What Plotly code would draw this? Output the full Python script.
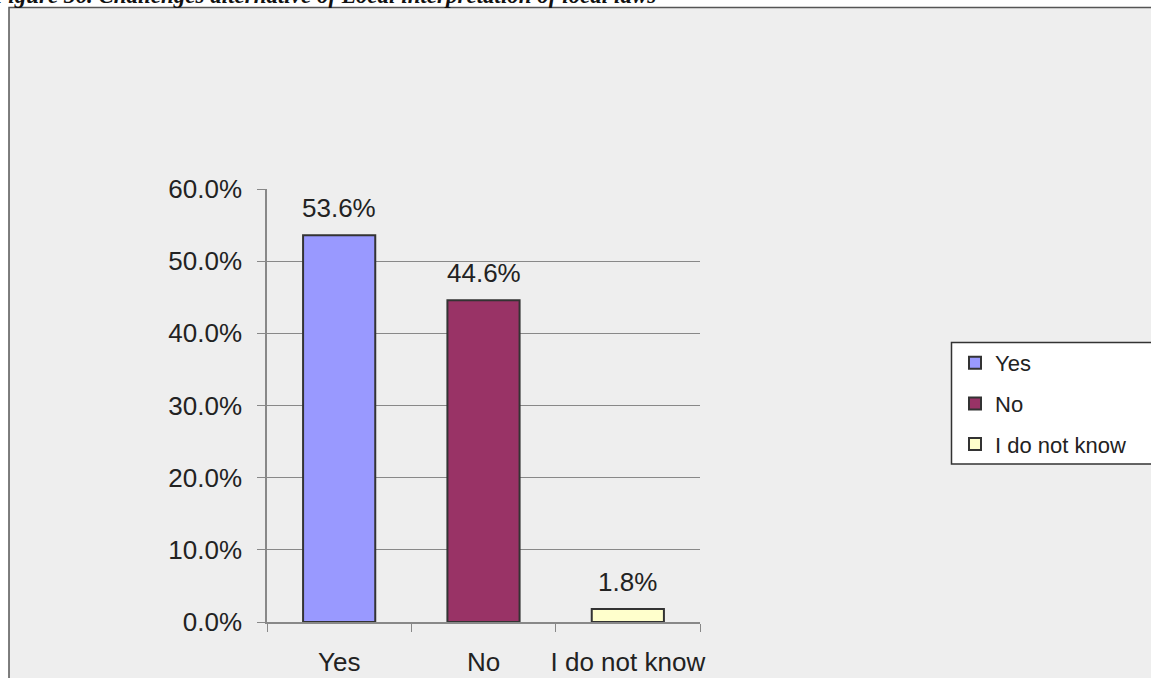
import plotly.graph_objects as go

# Survey answers and their shares (%)
categories = ["Yes", "No", "I do not know"]
shares = [53.6, 44.6, 1.8]
bar_colors = ["#9999ff", "#993366", "#ffffcc"]
y_ticks = [0, 10, 20, 30, 40, 50, 60]
y_tick_labels = [f"{v:.1f}%" for v in y_ticks]

W, H = 1151, 678


def px_x(x):
    return x / W


def px_y(y):
    return 1 - y / H


FONT = "Liberation Sans, Arial, sans-serif"
TEXT = "#222222"
AXIS = "#888888"

fig = go.Figure()

for cat, val, col in zip(categories, shares, bar_colors):
    fig.add_trace(go.Bar(
        x=[cat], y=[val], name=cat, legendgroup=cat,
        width=0.5,
        marker=dict(color=col, line=dict(color="#333333", width=2)),
        hoverinfo="skip",
    ))
    fig.add_annotation(
        x=cat, y=val, xref="x", yref="y",
        text=f"{val:.1f}%", showarrow=False,
        yanchor="bottom", yshift=10,
        font=dict(family=FONT, size=26, color=TEXT),
    )

# Chart frame (grey panel) and legend box
fig.add_shape(type="rect", xref="paper", yref="paper",
              x0=px_x(9), x1=px_x(1170), y0=px_y(700), y1=px_y(7.5),
              fillcolor="#eeeeee", line=dict(color="#555555", width=1.5),
              layer="below")
fig.add_shape(type="rect", xref="paper", yref="paper",
              x0=px_x(951.5), x1=px_x(1170), y0=px_y(464), y1=px_y(342.5),
              fillcolor="#ffffff", line=dict(color="#333333", width=1.5),
              layer="below")

# Caption above the chart (runs off the top edge of the page)
fig.add_annotation(
    x=px_x(-10), y=px_y(-4), xref="paper", yref="paper",
    xanchor="left", yanchor="middle", showarrow=False,
    text="<b><i>Figure 36. Challenges alternative of Local interpretation of local laws</i></b>",
    font=dict(family="Liberation Serif, Times New Roman, serif", size=23, color="#111111"),
)

fig.update_layout(
    width=W, height=H,
    margin=dict(l=0, r=0, t=0, b=0, autoexpand=False),
    paper_bgcolor="#ffffff",
    plot_bgcolor="rgba(0,0,0,0)",
    barmode="overlay",
    showlegend=True,
    legend=dict(
        x=px_x(955), y=px_y(342), xanchor="left", yanchor="top",
        bgcolor="rgba(0,0,0,0)", borderwidth=0,
        traceorder="grouped", tracegroupgap=9,
        font=dict(family=FONT, size=22, color=TEXT),
        itemclick=False, itemdoubleclick=False,
    ),
    xaxis=dict(
        type="category", categoryorder="array", categoryarray=categories,
        range=[-0.5, 2.5],
        domain=[px_x(267), px_x(700)],
        showline=True, linecolor=AXIS, linewidth=1.5,
        ticks="outside", tickson="boundaries", ticklen=8, tickcolor=AXIS,
        showgrid=False, tickangle=0,
        tickfont=dict(family=FONT, size=26, color=TEXT),
        ticklabelstandoff=16,
        fixedrange=True,
    ),
    yaxis=dict(
        range=[0, 60],
        domain=[px_y(622), px_y(189)],
        tickmode="array", tickvals=y_ticks, ticktext=y_tick_labels,
        showline=True, linecolor=AXIS, linewidth=1.5,
        ticks="outside", ticklen=8, tickcolor=AXIS,
        showgrid=True, gridcolor=AXIS, gridwidth=1,
        zeroline=False,
        tickfont=dict(family=FONT, size=26, color=TEXT),
        ticklabelstandoff=10,
        fixedrange=True,
    ),
)

fig.write_html("out.html")
